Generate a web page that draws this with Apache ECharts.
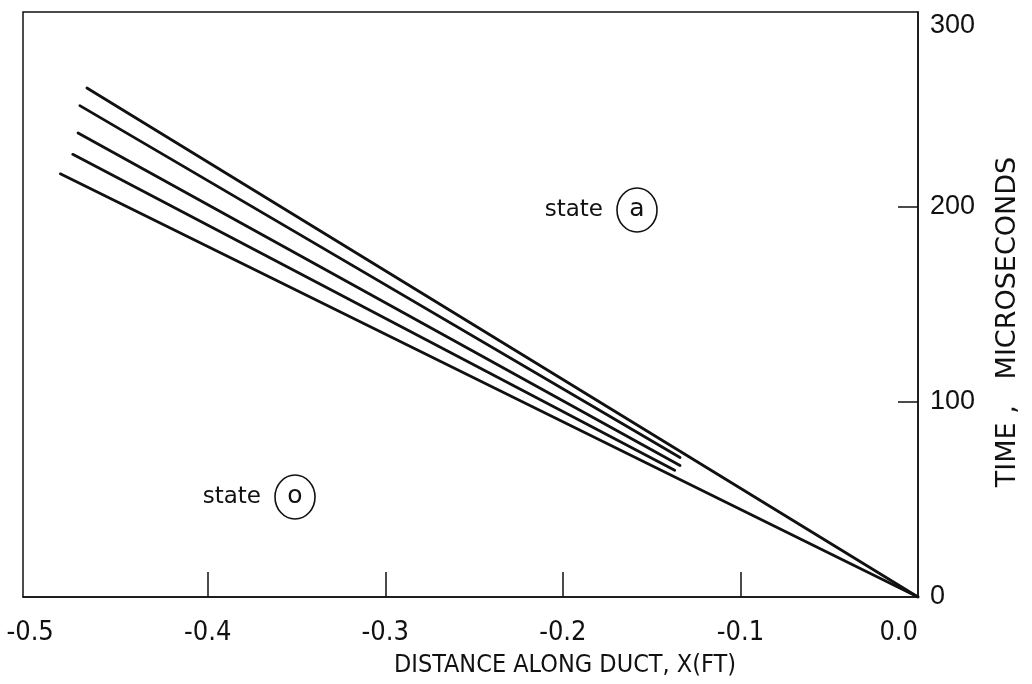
<!DOCTYPE html>
<html>
<head>
<meta charset="utf-8">
<script src="https://cdn.jsdelivr.net/npm/echarts@6/dist/echarts.min.js"></script>
<style>
  html, body { margin: 0; padding: 0; background: #fff; }
  #chart { width: 1032px; height: 684px; }
</style>
</head>
<body>
<div id="chart"></div>
<script>
// Wave trajectories in the duct: distance x (ft) vs time (microseconds).
// Outer traces run to the origin; inner traces end where they merge.
const trace1 = [[-0.468, 261], [0, 0]];
const trace2 = [[-0.472, 252], [-0.134, 71.5]];
const trace3 = [[-0.473, 238], [-0.134, 67.4]];
const trace4 = [[-0.476, 227], [-0.137, 65]];
const trace5 = [[-0.483, 217], [0, 0]];

const xTickValues = [-0.4, -0.3, -0.2, -0.1];
const xLabelValues = [-0.5, -0.4, -0.3, -0.2, -0.1, 0.0];
const yTickValues = [100, 200];
const yLabelValues = [0, 100, 200, 300];

const xTitle = 'DISTANCE ALONG DUCT, X(FT)';
const yTitle = 'TIME ,   MICROSECONDS';

const ink = '#111';
const narrowFont = '"Liberation Sans Narrow", "DejaVu Sans Condensed", "Liberation Sans", sans-serif';
const roundFont = '"DejaVu Sans", "Noto Sans", sans-serif';

const chart = echarts.init(document.getElementById('chart'), null, { renderer: 'canvas' });

const traces = [trace1, trace2, trace3, trace4, trace5];

const option = {
  backgroundColor: '#fff',
  animation: false,
  grid: {
    left: 23, right: 114, top: 12, bottom: 87,
    show: true, borderColor: ink, borderWidth: 1.5
  },
  xAxis: {
    type: 'value',
    min: -0.504, max: 0,
    axisLine: { show: true, onZero: false, lineStyle: { color: ink, width: 1.5 } },
    axisTick: { show: true, inside: true, length: 25, customValues: xTickValues,
                lineStyle: { color: ink, width: 1.5 } },
    axisLabel: {
      customValues: xLabelValues,
      margin: 22,
      color: ink,
      fontFamily: narrowFont,
      fontSize: 27,
      alignMaxLabel: 'right',
      formatter: v => (v === 0 ? '0.0' : v.toFixed(1))
    },
    splitLine: { show: false }
  },
  yAxis: {
    type: 'value',
    position: 'right',
    min: 0, max: 300,
    axisLine: { show: true, onZero: false, lineStyle: { color: ink, width: 1.5 } },
    axisTick: { show: true, inside: true, length: 20, customValues: yTickValues,
                lineStyle: { color: ink, width: 1.5 } },
    axisLabel: {
      customValues: yLabelValues,
      margin: 12,
      color: ink,
      fontFamily: '"Liberation Sans", Arial, sans-serif',
      fontSize: 27,
      verticalAlignMaxLabel: 'top'
    },
    splitLine: { show: false }
  },
  series: traces.map((d, i) => ({
    name: 'trace' + (i + 1),
    type: 'line',
    data: d,
    symbol: 'none',
    silent: true,
    lineStyle: { color: ink, width: 2.8, cap: 'round', join: 'round' },
    z: 3
  }))
};

chart.setOption(option);

// State annotations and axis titles
function stateMark(cx, cy, letter) {
  return [
    { type: 'text', x: cx - 34, y: cy,
      style: { text: 'state', fill: ink, font: '23px ' + roundFont,
               align: 'right', verticalAlign: 'middle' } },
    { type: 'ellipse', shape: { cx: cx, cy: cy, rx: 20, ry: 22 },
      style: { fill: 'none', stroke: ink, lineWidth: 1.6 } },
    { type: 'text', x: cx, y: cy - 1,
      style: { text: letter, fill: ink, font: '25px ' + roundFont,
               align: 'center', verticalAlign: 'middle' } }
  ];
}

chart.setOption({
  graphic: [
    ...stateMark(637, 210, 'a'),
    ...stateMark(295, 497, 'o'),
    { type: 'text', x: 565, y: 665,
      style: { text: xTitle, fill: ink, font: '25px ' + narrowFont,
               align: 'center', verticalAlign: 'middle' } },
    { type: 'text', x: 1008, y: 322, rotation: Math.PI / 2,
      style: { text: yTitle, fill: ink, font: '27px ' + roundFont,
               align: 'center', verticalAlign: 'middle' } }
  ]
});
</script>
</body>
</html>
